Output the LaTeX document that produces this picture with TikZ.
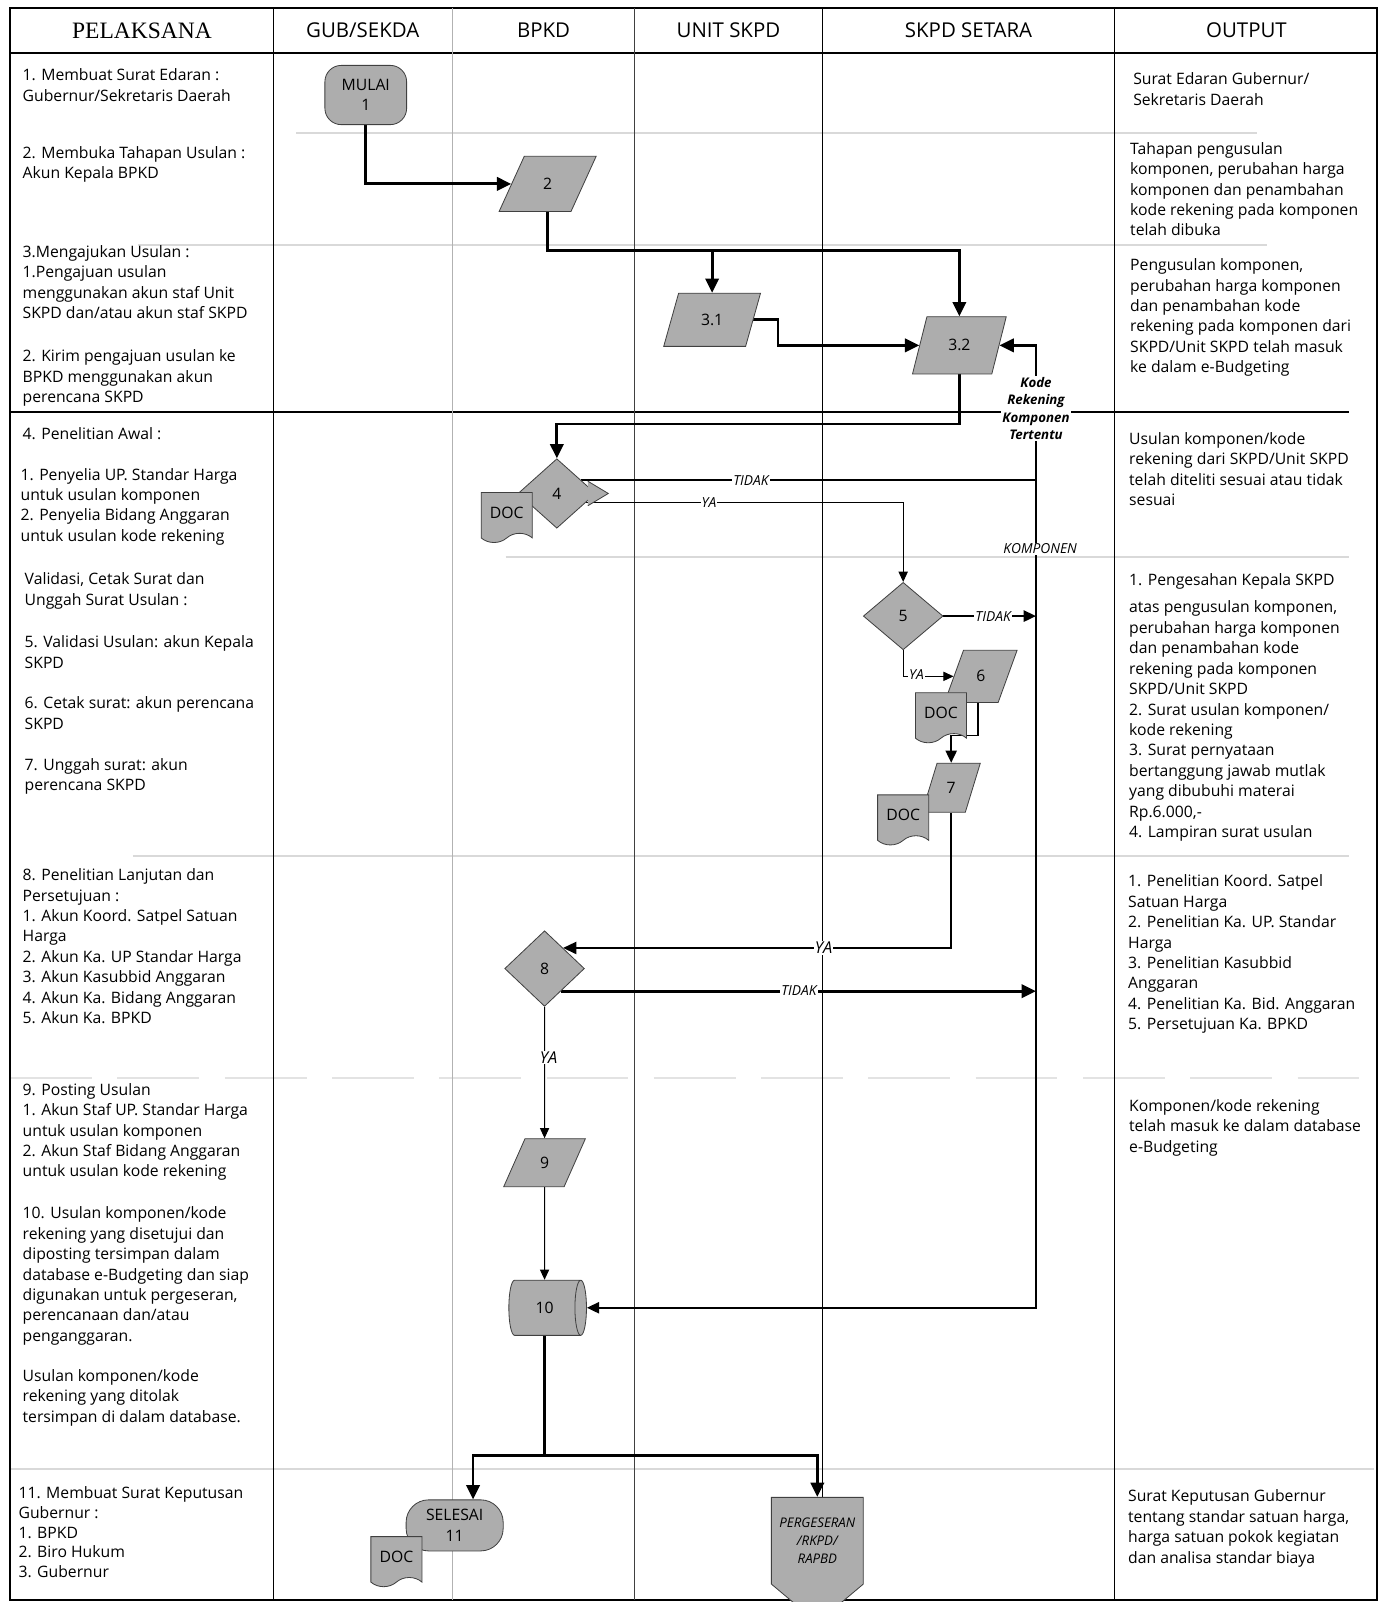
\documentclass[tikz,border=0pt]{standalone}
\usepackage{fontspec}
\setmainfont{Open Sans}
\newfontfamily\serifjudul{Liberation Serif}
\usepackage{tikz}
\usetikzlibrary{arrows.meta,backgrounds,calc,shapes.geometric,shapes.symbols}

\begin{document}
\begin{tikzpicture}[x=1pt,y=-1pt,
  every node/.style={font=\fontsize{15.4}{20}\selectfont},
  keterangan/.style={anchor=north west,align=left,inner sep=0pt},
  judul/.style={font=\fontsize{20}{24}\selectfont},
  bentuk/.style={draw=black!75,fill=black!32,line width=0.8pt,inner sep=0pt},
  proses/.style={bentuk,trapezium,trapezium stretches=true,trapezium left angle=67,trapezium right angle=113},
  putusan/.style={bentuk,diamond},
  dokumen/.style={bentuk,tape,tape bend top=none,tape bend height=9pt,minimum width=50pt,minimum height=49pt},
  alur/.style={line width=2.8pt,-{Triangle[length=14pt,width=13pt]}},
  alursedang/.style={line width=1.8pt,-{Triangle[length=12pt,width=11pt]}},
  alurtipis/.style={line width=1pt,-{Triangle[length=10pt,width=9pt]}},
  ket/.style={fill=white,inner sep=1pt,font=\itshape\fontsize{13.5}{15}\selectfont},
  samar/.style={line width=2pt,black!15}]
\useasboundingbox (0,0) rectangle (1350,1568);

% judul kolom
\node[font=\serifjudul\fontsize{23}{26}\selectfont] (hPelaksana) at (139,30) {PELAKSANA};
\node[judul] (hGub) at (355,30) {GUB/SEKDA};
\node[judul] (hBpkd) at (532,30) {BPKD};
\node[judul] (hUnit) at (713,30) {UNIT SKPD};
\node[judul] (hSetara) at (948,30) {SKPD SETARA};
\node[judul] (hOutput) at (1220,30) {OUTPUT};

% bagan alir
\node[bentuk,rounded corners=16pt,minimum width=80pt,minimum height=58pt,align=center] (mulai) at (358,93) {MULAI\\1};
\node[proses,minimum width=95pt,minimum height=54pt] (p2) at (536,180) {2};
\node[proses,minimum width=95pt,minimum height=52pt] (p31) at (697,313) {3.1};
\node[proses,minimum width=92pt,minimum height=56pt] (p32) at (939,338) {3.2};
\node[putusan,minimum width=76pt,minimum height=68pt] (d4) at (545,483) {4};
\filldraw[bentuk] ($(d4.east)+(-8,-12)$) -- ($(d4.east)+(12,0)$) -- ($(d4.east)+(-8,12)$);
\node[putusan,minimum width=78pt,minimum height=66pt] (d5) at (884,603) {5};
\node[proses,minimum width=71pt,minimum height=51pt] (p6) at (960,662) {6};
\node[proses,minimum width=57pt,minimum height=48pt] (p7) at (931,771) {7};
\node[putusan,minimum width=78pt,minimum height=74pt] (d8) at (533,948) {8};
\node[proses,minimum width=80pt,minimum height=47pt] (p9) at (533,1138) {9};
\node[bentuk,cylinder,shape aspect=1,minimum height=76pt,minimum width=54pt] (c10) at (533,1280) {10};
\node[bentuk,rounded corners=22pt,minimum width=95pt,minimum height=50pt,align=center] (selesai) at (445,1493) {SELESAI\\11};
\node[bentuk,signal,signal to=south,signal pointer angle=100,minimum width=90pt,minimum height=116pt,align=center,
  font=\itshape\fontsize{13}{18}\selectfont] (geser) at (800,1508) {PERGESERAN\\/RKPD/\\RAPBD};
\node[dokumen] (doc4) at (496,502) {DOC};
\node[dokumen] (doc6) at (921,698) {DOC};
\node[dokumen] (doc7) at (884,798) {DOC};
\node[dokumen] (doc11) at (388,1524) {DOC};
\node[fill=white,inner sep=1pt,align=center,font=\bfseries\itshape\fontsize{13}{17}\selectfont] (kode) at (1014,400) {Kode\\Rekening\\Komponen\\Tertentu};

% label alur
\node[ket] (tidak4) at (735,470) {TIDAK};
\node[ket] (ya4) at (694,492) {YA};
\node[ket] (komponen) at (1018,537) {KOMPONEN};
\node[ket] (tidak5) at (972,603) {TIDAK};
\node[ket] (ya5) at (897,660) {YA};
\node[ket,font=\itshape\fontsize{16}{18}\selectfont] (ya7) at (806,928) {YA};
\node[ket] (tidak8) at (782,970) {TIDAK};
\node[ket,font=\itshape\fontsize{16}{18}\selectfont] (ya8) at (537,1035) {YA};

% pelaksana
\node[keterangan] (k1) at (22,67) {1. Membuat Surat Edaran :\\Gubernur/Sekretaris Daerah};
\node[keterangan] (k2) at (22,143) {2. Membuka Tahapan Usulan :\\Akun Kepala BPKD};
\node[keterangan] (k3) at (22,240) {3.Mengajukan Usulan :\\1.Pengajuan usulan\\menggunakan akun staf Unit\\SKPD dan/atau akun staf SKPD};
\node[keterangan] (k3b) at (22,342) {2. Kirim pengajuan usulan ke\\BPKD menggunakan akun\\perencana SKPD};
\node[keterangan] (k4) at (22,418) {4. Penelitian Awal :};
\node[keterangan] (k4b) at (20,458) {1. Penyelia UP. Standar Harga\\untuk usulan komponen\\2. Penyelia Bidang Anggaran\\untuk usulan kode rekening};
\node[keterangan,font=\fontsize{15.4}{21}\selectfont] (k5) at (24,560) {Validasi, Cetak Surat dan\\Unggah Surat Usulan :};
\node[keterangan] (k5b) at (24,622) {5. Validasi Usulan: akun Kepala\\SKPD};
\node[keterangan] (k6) at (24,682) {6. Cetak surat: akun perencana\\SKPD};
\node[keterangan] (k7) at (24,742) {7. Unggah surat: akun\\perencana SKPD};
\node[keterangan] (k8) at (22,850) {8. Penelitian Lanjutan dan\\Persetujuan :\\1. Akun Koord. Satpel Satuan\\Harga\\2. Akun Ka. UP Standar Harga\\3. Akun Kasubbid Anggaran\\4. Akun Ka. Bidang Anggaran\\5. Akun Ka. BPKD};
\node[keterangan] (k9) at (22,1060) {9. Posting Usulan\\1. Akun Staf UP. Standar Harga\\untuk usulan komponen\\2. Akun Staf Bidang Anggaran\\untuk usulan kode rekening};
\node[keterangan] (k10) at (22,1181) {10. Usulan komponen/kode\\rekening yang disetujui dan\\diposting tersimpan dalam\\database e-Budgeting dan siap\\digunakan untuk pergeseran,\\perencanaan dan/atau\\penganggaran.};
\node[keterangan] (k10b) at (22,1340) {Usulan komponen/kode\\rekening yang ditolak\\tersimpan di dalam database.};
\node[keterangan,font=\fontsize{15.4}{19.3}\selectfont] (k11) at (18,1455) {11. Membuat Surat Keputusan\\Gubernur :\\1. BPKD\\2. Biro Hukum\\3. Gubernur};

% output
\node[keterangan] (o1) at (1109,71) {Surat Edaran Gubernur/\\Sekretaris Daerah};
\node[keterangan] (o2) at (1106,139) {Tahapan pengusulan\\komponen, perubahan harga\\komponen dan penambahan\\kode rekening pada komponen\\telah dibuka};
\node[keterangan] (o3) at (1106,253) {Pengusulan komponen,\\perubahan harga komponen\\dan penambahan kode\\rekening pada komponen dari\\SKPD/Unit SKPD telah masuk\\ke dalam e-Budgeting};
\node[keterangan] (o4) at (1105,423) {Usulan komponen/kode\\rekening dari SKPD/Unit SKPD\\telah diteliti sesuai atau tidak\\sesuai};
\node[keterangan] (o5) at (1105,561) {1. Pengesahan Kepala SKPD};
\node[keterangan] (o5b) at (1105,588) {atas pengusulan komponen,\\perubahan harga komponen\\dan penambahan kode\\rekening pada komponen\\SKPD/Unit SKPD\\2. Surat usulan komponen/\\kode rekening\\3. Surat pernyataan\\bertanggung jawab mutlak\\yang dibubuhi materai\\Rp.6.000,-\\4. Lampiran surat usulan};
\node[keterangan] (o6) at (1104,856) {1. Penelitian Koord. Satpel\\Satuan Harga\\2. Penelitian Ka. UP. Standar\\Harga\\3. Penelitian Kasubbid\\Anggaran\\4. Penelitian Ka. Bid. Anggaran\\5. Persetujuan Ka. BPKD};
\node[keterangan] (o7) at (1105,1076) {Komponen/kode rekening\\telah masuk ke dalam database\\e-Budgeting};
\node[keterangan] (o8) at (1104,1458) {Surat Keputusan Gubernur\\tentang standar satuan harga,\\harga satuan pokok kegiatan\\dan analisa standar biaya};

\begin{scope}[on background layer]
\fill[white] (0,0) rectangle (1350,1568);
% garis baris yang samar
\foreach \ya/\xa/\xb in {130/290/1230,240/135/1240,545/495/1320,838/130/1320,1438/10/1345}
  \draw[samar] (\xa,\ya) -- (\xb,\ya);
\draw[samar,black!11,dash pattern=on 80pt off 25pt] (10,1055) -- (1330,1055);
% kolom
\draw[line width=1.5pt] (10,8) rectangle (1348,1566);
\draw[line width=1.8pt] (10,52) -- (1348,52);
\draw[line width=1.8pt] (10,403) -- (1320,403);
\foreach \x in {268,805,1091}
  \draw[line width=1.3pt] (\x,8) -- (\x,1566);
\draw[line width=1pt,black!75] (621,8) -- (621,1566);
\draw[line width=1.2pt,black!30] (443,8) -- (443,1566);

% penghubung
\coordinate (baris3) at (0,245);
\coordinate (baris4) at (0,415);
\coordinate (cabang) at (0,1425);
\draw[alur] (mulai.south) |- (p2.west);
\draw[alur] (p2.south) -- (p2.south |- baris3) -| (p32.north);
\draw[alur] (p31.north |- baris3) -- (p31.north);
\draw[alur] (p31.east) -- ++(24,0) |- (p32.west);
\draw[alur] (kode.north) |- (p32.east);
\draw[alur] (p32.south) -- (p32.south |- baris4) -| (d4.north);
\draw[line width=1.8pt] (d4.28) -- (d4.28 -| kode.south);
\draw[alurtipis] (d4.-17) -| (d5.north);
\draw[alursedang] (kode.south) |- (c10.east);
\draw[alursedang] (d5.east) -- (d5.east -| kode.south);
\draw[alurtipis] (d5.south) |- (p6.west);
\draw[alursedang] ([xshift=-3pt]p6.south) -- ++(0,32) -| (p7.north);
\draw[line width=1.4pt,-{Triangle[length=13pt,width=12pt]}] (p7.south) |- (d8.48);
\draw[alur] (d8.-54) -- (d8.-54 -| kode.south);
\draw[alurtipis] (d8.south) -- (p9.north);
\draw[alurtipis] (p9.south) -- (c10.north);
\draw[alur] (c10.south) -- (c10.south |- cabang) -| ([xshift=18pt]selesai.north);
\draw[alur] (c10.south |- cabang) -| (geser.north);
\end{scope}
\end{tikzpicture}
\end{document}
